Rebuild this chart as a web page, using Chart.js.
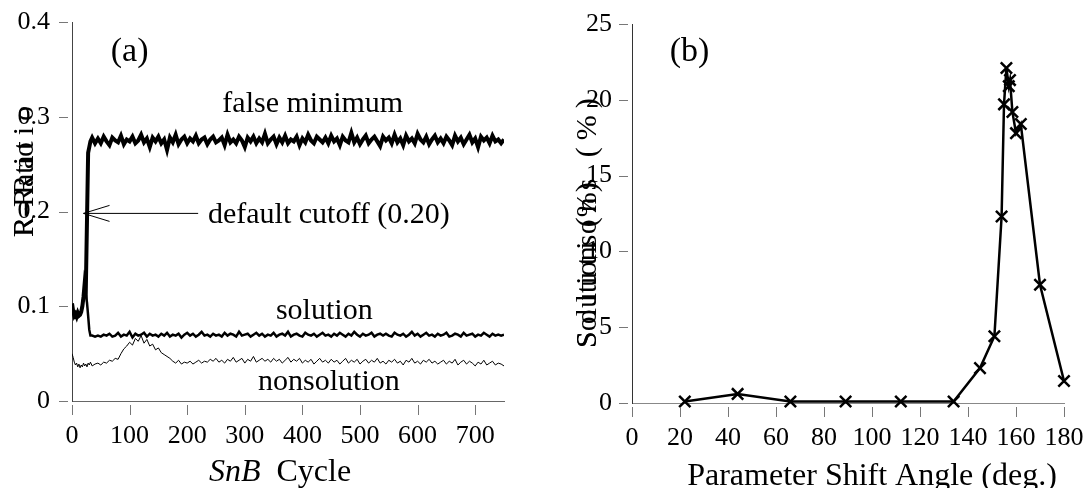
<!DOCTYPE html>
<html>
<head>
<meta charset="utf-8">
<script src="https://cdn.jsdelivr.net/npm/chart.js@4.4.0/dist/chart.umd.min.js"></script>
<style>
  html, body { margin: 0; padding: 0; background: #fff; }
  #wrap { position: relative; width: 1086px; height: 488px; }
  canvas { position: absolute; top: 0; }
  #chartA { left: 0; }
  #chartB { left: 545px; }
</style>
</head>
<body>
<div id="wrap">
  <canvas id="chartA" width="545" height="488"></canvas>
  <canvas id="chartB" width="541" height="488"></canvas>
</div>
<script>
// ========== DATA: panel (a), R value per SnB cycle ==========

const cycles = [
  0, 2, 4, 6, 8, 10, 12, 14, 16, 18, 20, 22, 24, 26, 28, 30, 32, 35, 40,
  45, 50, 55, 60, 65, 70, 75, 80, 85, 90, 95, 100, 105, 110, 115, 120, 125, 130, 135, 140,
  145, 150, 155, 160, 165, 170, 175, 180, 185, 190, 195, 200, 205, 210, 215, 220, 225, 230, 235, 240,
  245, 250, 255, 260, 265, 270, 275, 280, 285, 290, 295, 300, 305, 310, 315, 320, 325, 330, 335, 340,
  345, 350, 355, 360, 365, 370, 375, 380, 385, 390, 395, 400, 405, 410, 415, 420, 425, 430, 435, 440,
  445, 450, 455, 460, 465, 470, 475, 480, 485, 490, 495, 500, 505, 510, 515, 520, 525, 530, 535, 540,
  545, 550, 555, 560, 565, 570, 575, 580, 585, 590, 595, 600, 605, 610, 615, 620, 625, 630, 635, 640,
  645, 650, 655, 660, 665, 670, 675, 680, 685, 690, 695, 700, 705, 710, 715, 720, 725, 730, 735, 740,
  745, 750
];

const falseMinimum = [
  0.103, 0.095, 0.090, 0.092, 0.089, 0.093, 0.090, 0.091, 0.094, 0.100, 0.110, 0.124, 0.118, 0.190, 0.262, 0.268, 0.274, 0.278, 0.272,
  0.277, 0.272, 0.279, 0.274, 0.270, 0.278, 0.275, 0.273, 0.280, 0.271, 0.276, 0.274, 0.279, 0.272, 0.275, 0.281, 0.273, 0.277, 0.268, 0.278,
  0.274, 0.279, 0.272, 0.276, 0.265, 0.278, 0.273, 0.281, 0.271, 0.276, 0.279, 0.272, 0.277, 0.274, 0.280, 0.272, 0.276, 0.278, 0.271, 0.276,
  0.279, 0.273, 0.275, 0.278, 0.270, 0.281, 0.273, 0.276, 0.272, 0.279, 0.275, 0.268, 0.278, 0.274, 0.279, 0.272, 0.277, 0.273, 0.282, 0.272,
  0.276, 0.279, 0.271, 0.278, 0.273, 0.280, 0.272, 0.276, 0.274, 0.279, 0.270, 0.277, 0.273, 0.281, 0.275, 0.272, 0.279, 0.276, 0.273, 0.278,
  0.272, 0.280, 0.274, 0.277, 0.270, 0.279, 0.275, 0.273, 0.283, 0.273, 0.278, 0.271, 0.276, 0.280, 0.272, 0.276, 0.279, 0.274, 0.269, 0.279,
  0.275, 0.278, 0.272, 0.281, 0.273, 0.277, 0.270, 0.280, 0.274, 0.277, 0.272, 0.282, 0.276, 0.273, 0.279, 0.271, 0.276, 0.280, 0.273, 0.277,
  0.272, 0.279, 0.275, 0.270, 0.280, 0.274, 0.278, 0.271, 0.276, 0.281, 0.273, 0.277, 0.268, 0.279, 0.275, 0.278, 0.272, 0.280, 0.274, 0.276,
  0.272, 0.276
];

const solution = [
  0.101, 0.094, 0.090, 0.091, 0.089, 0.092, 0.090, 0.092, 0.095, 0.102, 0.110, 0.121, 0.112, 0.104, 0.090, 0.075, 0.069, 0.069, 0.068,
  0.069, 0.068, 0.070, 0.069, 0.071, 0.068, 0.069, 0.072, 0.068, 0.070, 0.069, 0.073, 0.067, 0.071, 0.069, 0.070, 0.072, 0.068, 0.071, 0.069,
  0.070, 0.068, 0.071, 0.069, 0.072, 0.068, 0.070, 0.069, 0.071, 0.067, 0.070, 0.072, 0.069, 0.071, 0.068, 0.070, 0.073, 0.069, 0.070, 0.068,
  0.071, 0.069, 0.070, 0.068, 0.072, 0.069, 0.071, 0.070, 0.068, 0.073, 0.069, 0.070, 0.071, 0.068, 0.070, 0.072, 0.069, 0.071, 0.068, 0.070,
  0.069, 0.072, 0.068, 0.070, 0.071, 0.069, 0.073, 0.068, 0.070, 0.071, 0.069, 0.068, 0.072, 0.070, 0.069, 0.071, 0.068, 0.070, 0.072, 0.069,
  0.070, 0.068, 0.071, 0.069, 0.072, 0.070, 0.068, 0.071, 0.069, 0.073, 0.070, 0.068, 0.071, 0.069, 0.070, 0.072, 0.068, 0.070, 0.071, 0.069,
  0.071, 0.069, 0.068, 0.072, 0.070, 0.069, 0.071, 0.068, 0.070, 0.073, 0.069, 0.071, 0.068, 0.070, 0.072, 0.069, 0.070, 0.068, 0.071, 0.069,
  0.070, 0.072, 0.068, 0.069, 0.071, 0.070, 0.068, 0.072, 0.069, 0.070, 0.071, 0.068, 0.070, 0.069, 0.072, 0.070, 0.068, 0.071, 0.069, 0.070,
  0.069, 0.070
];

const nonsolution = [
  0.050, 0.046, 0.041, 0.038, 0.040, 0.036, 0.039, 0.035, 0.038, 0.036, 0.040, 0.037, 0.039, 0.036, 0.040, 0.038, 0.041, 0.037, 0.039,
  0.040, 0.038, 0.041, 0.040, 0.043, 0.042, 0.045, 0.044, 0.050, 0.055, 0.058, 0.062, 0.059, 0.066, 0.063, 0.069, 0.061, 0.065, 0.058, 0.060,
  0.054, 0.056, 0.051, 0.049, 0.047, 0.045, 0.042, 0.040, 0.043, 0.039, 0.041, 0.040, 0.042, 0.039, 0.041, 0.043, 0.040, 0.042, 0.041, 0.044,
  0.042, 0.045, 0.041, 0.043, 0.040, 0.044, 0.042, 0.046, 0.041, 0.043, 0.045, 0.040, 0.044, 0.042, 0.047, 0.041, 0.043, 0.045, 0.042, 0.044,
  0.041, 0.045, 0.042, 0.044, 0.040, 0.043, 0.046, 0.041, 0.044, 0.042, 0.045, 0.040, 0.043, 0.041, 0.044, 0.039, 0.042, 0.045, 0.041, 0.043,
  0.040, 0.044, 0.041, 0.043, 0.039, 0.042, 0.045, 0.040, 0.043, 0.041, 0.044, 0.039, 0.042, 0.044, 0.040, 0.043, 0.041, 0.045, 0.040, 0.042,
  0.039, 0.043, 0.041, 0.044, 0.040, 0.042, 0.038, 0.043, 0.041, 0.045, 0.040, 0.042, 0.039, 0.043, 0.041, 0.044, 0.040, 0.042, 0.039, 0.041,
  0.043, 0.039, 0.042, 0.040, 0.044, 0.038, 0.041, 0.043, 0.039, 0.042, 0.040, 0.037, 0.041, 0.039, 0.043, 0.038, 0.040, 0.042, 0.038, 0.040,
  0.039, 0.037
];

// ========== DATA: panel (b), solutions vs shift angle ==========

const shiftAngles = [22, 44, 66, 89, 112, 134, 145, 151, 154, 155, 156, 157, 157.5, 158.5, 160, 162, 170, 180];
const solutionsPct = [0.1, 0.6, 0.1, 0.1, 0.1, 0.1, 2.3, 4.4, 12.3, 19.7, 22.1, 20.9, 21.3, 19.2, 17.8, 18.4, 7.8, 1.45];

// ========== DRAWING ==========

const SERIF = "'Liberation Serif', 'Times New Roman', serif";

function toPoints(xs, ys) {
  return xs.map((x, i) => ({ x: x, y: ys[i] }));
}

// ticks set off from the axis, free text, arrow and axis titles
const panelDeco = {
  id: 'panelDeco',
  afterDraw(chart, args, o) {
    const { ctx, chartArea: a } = chart;
    const x = chart.scales.x, y = chart.scales.y;
    ctx.save();

    ctx.strokeStyle = '#777';
    ctx.lineWidth = 1;
    ctx.beginPath();
    y.ticks.forEach(t => {
      const py = Math.round(y.getPixelForValue(t.value)) + 0.5;
      ctx.moveTo(a.left - 13, py);
      ctx.lineTo(a.left - 4, py);
    });
    x.ticks.forEach(t => {
      const px = Math.round(x.getPixelForValue(t.value)) + 0.5;
      ctx.moveTo(px, a.bottom + 4);
      ctx.lineTo(px, a.bottom + 14);
    });
    ctx.stroke();

    ctx.fillStyle = '#000';
    ctx.textBaseline = 'middle';
    (o.notes || []).forEach(n => {
      ctx.font = n.size + 'px ' + SERIF;
      ctx.textAlign = n.align || 'center';
      ctx.fillText(n.text, x.getPixelForValue(n.x), y.getPixelForValue(n.y));
    });

    if (o.arrow) {
      const x0 = x.getPixelForValue(o.arrow.from[0]), y0 = y.getPixelForValue(o.arrow.from[1]);
      const x1 = x.getPixelForValue(o.arrow.to[0]), y1 = y.getPixelForValue(o.arrow.to[1]);
      ctx.strokeStyle = '#000';
      ctx.lineWidth = 1;
      ctx.beginPath();
      ctx.moveTo(x0, y0);
      ctx.lineTo(x1, y1);
      ctx.moveTo(x1 + 26, y1 - 8);
      ctx.lineTo(x1, y1);
      ctx.lineTo(x1 + 26, y1 + 8);
      ctx.stroke();
    }

    // y title: same text twice, second copy spaced out
    if (o.yTitle) {
      const t = o.yTitle;
      ctx.textAlign = 'left';
      ctx.font = t.size + 'px ' + SERIF;
      t.spacing.forEach(sp => {
        ctx.save();
        ctx.translate(t.x, t.bottom);
        ctx.rotate(-Math.PI / 2);
        ctx.letterSpacing = sp + 'px';
        ctx.fillText(t.text, 0, 0);
        ctx.restore();
      });
    }

    if (o.xTitle) {
      const t = o.xTitle;
      ctx.textBaseline = 'alphabetic';
      ctx.textAlign = 'left';
      const fonts = t.parts.map(p => (p.italic ? 'italic ' : '') + t.size + 'px ' + SERIF);
      let total = 0;
      t.parts.forEach((p, i) => { ctx.font = fonts[i]; total += ctx.measureText(p.text).width; });
      let cx = t.center - total / 2;
      t.parts.forEach((p, i) => {
        ctx.font = fonts[i];
        ctx.fillText(p.text, cx, t.baseline);
        cx += ctx.measureText(p.text).width;
      });
    }
    ctx.restore();
  }
};

function axis(min, max, step, fit, isY, borderColor, pad) {
  return {
    type: 'linear',
    min: min,
    max: max,
    afterFit: s => {
      if (isY) s.width = fit; else s.height = fit;
      // the layout padding alone decides where the plot area sits
      s.paddingTop = 0; s.paddingBottom = 0; s.paddingLeft = 0; s.paddingRight = 0;
    },
    grid: { display: false, drawTicks: false },
    border: { display: true, color: borderColor, width: 1 },
    ticks: {
      stepSize: step,
      includeBounds: false,
      padding: pad,
      color: '#000',
      font: { family: SERIF, size: 26 }
    }
  };
}

new Chart(document.getElementById('chartA'), {
  type: 'line',
  data: {
    datasets: [
      { label: 'false minimum', data: toPoints(cycles, falseMinimum), borderColor: '#000', borderWidth: 4, pointRadius: 0 },
      { label: 'solution', data: toPoints(cycles, solution), borderColor: '#000', borderWidth: 2.5, pointRadius: 0 },
      { label: 'nonsolution', data: toPoints(cycles, nonsolution), borderColor: '#000', borderWidth: 1, pointRadius: 0 }
    ]
  },
  options: {
    responsive: false,
    animation: false,
    devicePixelRatio: 1,
    layout: { padding: { left: 0, top: 22, right: 41, bottom: 0 } },
    scales: {
      x: axis(0, 750, 100, 87, false, '#666', 20),
      y: axis(0, 0.4, 0.1, 72, true, '#444', 22)
    },
    plugins: {
      legend: { display: false },
      tooltip: { enabled: false },
      panelDeco: {
        notes: [
          { text: '(a)', x: 100, y: 0.368, size: 34 },
          { text: 'false minimum', x: 418, y: 0.313, size: 30 },
          { text: 'default cutoff (0.20)', x: 236, y: 0.196, size: 30, align: 'left' },
          { text: 'solution', x: 438, y: 0.095, size: 30 },
          { text: 'nonsolution', x: 446, y: 0.02, size: 30 }
        ],
        arrow: { from: [219, 0.198], to: [20, 0.198] },
        yTitle: { text: 'R-Ratio', size: 30, x: 25, bottom: 237, spacing: [0, 6] },
        xTitle: { parts: [{ text: 'SnB', italic: true }, { text: '  Cycle' }], size: 32, center: 280, baseline: 481 }
      }
    }
  },
  plugins: [panelDeco]
});

new Chart(document.getElementById('chartB'), {
  type: 'scatter',
  data: {
    datasets: [{
      label: 'Solutions (%)',
      data: toPoints(shiftAngles, solutionsPct),
      showLine: true,
      borderColor: '#000',
      borderWidth: 2.5,
      pointStyle: 'crossRot',
      pointRadius: 8,
      pointBorderWidth: 2.5,
      pointBorderColor: '#000',
      pointBackgroundColor: 'rgba(0,0,0,0)',
      clip: false
    }]
  },
  options: {
    responsive: false,
    animation: false,
    devicePixelRatio: 1,
    layout: { padding: { left: 0, top: 24, right: 22, bottom: 0 } },
    scales: {
      x: axis(0, 180, 20, 85, false, '#888', 20),
      y: axis(0, 25, 5, 87, true, '#333', 20)
    },
    plugins: {
      legend: { display: false },
      tooltip: { enabled: false },
      panelDeco: {
        notes: [
          { text: '(b)', x: 24, y: 23.15, size: 34 }
        ],
        yTitle: { text: 'Solutions (%)', size: 30, x: 43, bottom: 348, spacing: [0, 7] },
        xTitle: { parts: [{ text: 'Parameter Shift Angle (deg.)' }], size: 32, center: 327, baseline: 485 }
      }
    }
  },
  plugins: [panelDeco]
});
</script>
</body>
</html>
